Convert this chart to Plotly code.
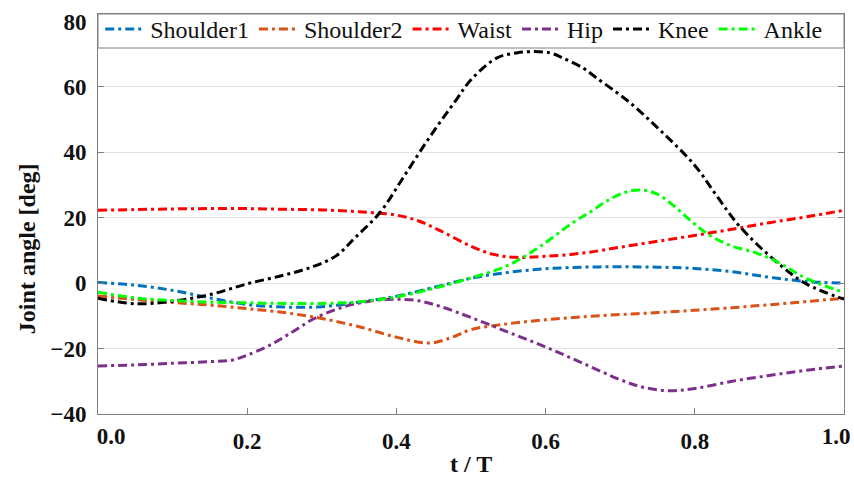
import plotly.graph_objects as go

# ---- data ----
t_s1 = [0, 0.05, 0.1, 0.15, 0.2, 0.25, 0.3, 0.35, 0.4, 0.45, 0.5, 0.55, 0.6, 0.65, 0.7, 0.75, 0.8, 0.85, 0.9, 0.95, 1.0]
shoulder1 = [0.2, -0.6, -2.2, -4.5, -6.5, -7.3, -7.2, -5.8, -4.0, -1.3, 1.5, 3.3, 4.4, 4.9, 5.0, 4.9, 4.5, 3.5, 1.8, 0.5, 0.0]

t_s2 = [0, 0.05, 0.1, 0.15, 0.2, 0.25, 0.3, 0.35, 0.4, 0.445, 0.475, 0.5, 0.55, 0.6, 0.65, 0.7, 0.75, 0.8, 0.85, 0.9, 0.95, 1.0]
shoulder2 = [-3.9, -5.0, -5.9, -6.7, -7.8, -9.0, -10.8, -13.3, -16.5, -18.3, -16.5, -14.2, -12.4, -11.2, -10.3, -9.6, -9.0, -8.3, -7.5, -6.6, -5.6, -4.6]

t_w = [0, 0.05, 0.1, 0.15, 0.2, 0.25, 0.3, 0.35, 0.4, 0.43, 0.46, 0.5, 0.53, 0.56, 0.6, 0.65, 0.7, 0.75, 0.8, 0.85, 0.9, 0.95, 1.0]
waist = [22.3, 22.5, 22.7, 22.8, 22.8, 22.6, 22.4, 21.8, 20.8, 19.0, 15.9, 11.3, 8.8, 7.9, 8.2, 9.2, 11.0, 12.8, 14.6, 16.5, 18.5, 20.3, 22.3]

t_h = [0, 0.05, 0.1, 0.15, 0.18, 0.2, 0.23, 0.26, 0.29, 0.33, 0.37, 0.4, 0.43, 0.46, 0.5, 0.55, 0.6, 0.65, 0.7, 0.73, 0.765, 0.8, 0.85, 0.9, 0.95, 1.0]
hip = [-25.3, -25.0, -24.5, -24.0, -23.5, -22.0, -19.0, -15.0, -10.8, -7.2, -5.3, -4.9, -5.4, -7.2, -10.5, -15.0, -19.5, -24.5, -29.5, -31.8, -32.9, -32.2, -30.0, -28.2, -26.6, -25.3]

t_k = [0, 0.05, 0.1, 0.15, 0.2, 0.25, 0.29, 0.32, 0.345, 0.378, 0.41, 0.445, 0.48, 0.5, 0.535, 0.561, 0.585, 0.606, 0.623, 0.65, 0.668, 0.713, 0.757, 0.8, 0.83, 0.86, 0.91, 0.95, 1.0]
knee = [-4.6, -6.3, -5.5, -3.5, -0.2, 2.5, 5.2, 8.5, 14.0, 21.6, 32.6, 44.8, 56.0, 62.2, 68.9, 70.4, 70.8, 70.4, 68.9, 65.8, 62.8, 55.2, 46.0, 36.0, 26.5, 17.4, 6.4, -0.3, -4.9]

t_a = [0, 0.05, 0.1, 0.15, 0.2, 0.25, 0.3, 0.35, 0.4, 0.45, 0.5, 0.55, 0.593, 0.637, 0.66, 0.682, 0.704, 0.727, 0.749, 0.771, 0.794, 0.816, 0.847, 0.883, 0.91, 0.95, 1.0]
ankle = [-2.8, -4.5, -5.3, -5.8, -6.0, -6.2, -6.2, -5.7, -4.2, -1.6, 1.6, 5.5, 11.3, 18.6, 21.8, 25.1, 27.6, 28.5, 27.3, 23.8, 19.2, 15.2, 11.6, 9.2, 6.6, 1.4, -2.8]

names = ["Shoulder1", "Shoulder2", "Waist", "Hip", "Knee", "Ankle"]
colors = ["#0072BD", "#D95319", "#FF0000", "#7E2F8E", "#000000", "#00FF00"]
x_ticks = [0.0, 0.2, 0.4, 0.6, 0.8, 1.0]
x_ticktext = ["0.0", "0.2", "0.4", "0.6", "0.8", "1.0"]
y_ticks = [-40, -20, 0, 20, 40, 60, 80]

series = [(t_s1, shoulder1), (t_s2, shoulder2), (t_w, waist), (t_h, hip), (t_k, knee), (t_a, ankle)]

FONT = "Liberation Serif"
AX = "#808080"
TICKFONT = dict(family=FONT, size=23, color="#111111", weight="bold")
TITLEFONT = dict(family=FONT, size=24, color="#111111")

fig = go.Figure()
for (tx, ty), nm, c in zip(series, names, colors):
    fig.add_trace(go.Scatter(
        x=tx, y=ty, name=nm, mode="lines",
        line=dict(color=c, width=3, dash="9px,4px,3px,4px", shape="spline", smoothing=1.0),
    ))

# empty helper traces so the end-label axes are drawn
for ax in ["x2", "x3"]:
    fig.add_trace(go.Scatter(x=[None], y=[None], xaxis=ax, yaxis="y",
                             showlegend=False, hoverinfo="skip", mode="lines"))

fig.update_layout(
    width=854, height=479,
    margin=dict(l=98, r=10, t=14, b=65, autoexpand=False),
    plot_bgcolor="white", paper_bgcolor="white",
    font=dict(family=FONT, color="black"),
    showlegend=True,
    legend=dict(
        orientation="h", x=0.003, xanchor="left", y=1.0175, yanchor="top",
        bgcolor="rgba(255,255,255,0)", borderwidth=0,
        font=dict(family=FONT, size=24, color="#111111"),
        itemwidth=40,
    ),
    xaxis=dict(
        range=[0, 1], tickvals=x_ticks[1:-1], ticktext=x_ticktext[1:-1],
        ticks="inside", ticklen=6, tickcolor=AX, tickwidth=1,
        showline=True, linecolor=AX, linewidth=1, mirror=True,
        showgrid=False, zeroline=False, automargin=False,
        tickfont=TICKFONT, ticklabelstandoff=6,
    ),
    xaxis2=dict(
        overlaying="x", matches="x", anchor="y", side="bottom",
        tickvals=x_ticks[:1], ticktext=x_ticktext[:1], ticks="",
        showline=False, showgrid=False, zeroline=False, automargin=False,
        tickfont=TICKFONT, ticklabelstandoff=6, ticklabelshift=13,
    ),
    xaxis3=dict(
        overlaying="x", matches="x", anchor="y", side="bottom",
        tickvals=x_ticks[-1:], ticktext=x_ticktext[-1:], ticks="",
        showline=False, showgrid=False, zeroline=False, automargin=False,
        tickfont=TICKFONT, ticklabelstandoff=6, ticklabelshift=-8,
    ),
    yaxis=dict(
        range=[-40, 82.3], tickvals=y_ticks,
        ticks="inside", ticklen=6, tickcolor=AX, tickwidth=1,
        showline=True, linecolor=AX, linewidth=1, mirror="ticks",
        showgrid=True, gridcolor="#e3e3e3", gridwidth=1, zeroline=False, automargin=False,
        tickfont=TICKFONT, ticklabelstandoff=6,
    ),
    shapes=[dict(type="rect", xref="paper", yref="paper", x0=0, x1=1, y0=0.915, y1=1,
                 fillcolor="white", line=dict(color=AX, width=1), layer="above")],
    annotations=[
        dict(text="<b>Joint angle [deg]</b>", xref="paper", yref="paper",
             x=-0.095, y=0.4125, textangle=-90, showarrow=False,
             xanchor="center", yanchor="middle", font=TITLEFONT),
        dict(text="<b>t / T</b>", xref="paper", yref="paper",
             x=0.5, y=-0.125, showarrow=False,
             xanchor="center", yanchor="middle", font=TITLEFONT),
    ],
)

fig.write_html("out.html")
